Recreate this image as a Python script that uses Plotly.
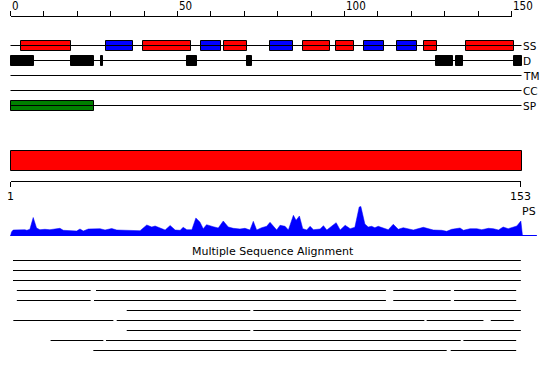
import plotly.graph_objects as go

# ---------------- data ----------------
SEQ_LEN = 153
TOP_TICKS = list(range(0, 151, 10))
TOP_LABEL_POS = [0, 50, 100, 150]
TOP_LABELS = ["0", "50", "100", "150"]
BOTTOM_TICKS = [1, 153]
BOTTOM_LABELS = ["1", "153"]
TRACK_NAMES = ["SS", "D", "TM", "CC", "SP"]

HELIX_START = [3.0, 39.8, 63.8, 87.7, 97.6, 123.7, 136.5]
HELIX_END = [18.0, 53.9, 70.7, 95.8, 102.7, 127.8, 150.6]
STRAND_START = [28.7, 56.9, 77.8, 105.7, 115.6]
STRAND_END = [36.8, 62.9, 84.7, 111.7, 121.6]
DISORDER_START = [0.0, 18.0, 27.0, 52.7, 70.7, 127.5, 133.5, 150.6]
DISORDER_END = [6.9, 24.9, 27.8, 55.7, 72.2, 132.6, 135.6, 153.0]
SIGNAL_START = [0.0]
SIGNAL_END = [24.9]
DOMAIN_START = [0.0]
DOMAIN_END = [153.0]

PROFILE_POS = [0, 0.3, 0.8, 2.8, 4.3, 4.9, 5.8, 6.8, 7.8, 8.8, 10.3, 11.8, 13.3, 14.8,
               15.8, 17.8, 19.8, 20.8, 21.8, 23.3, 25.3, 26.8, 28.3, 30.3, 31.8, 35.8,
               37.8, 38.8, 40.8, 42.3, 43.3, 44.8, 46.3, 47.8, 49.3, 50.8, 51.7, 52.8,
               54.3, 55.5, 56.7, 57.7, 58.7, 60.7, 62.2, 63.7, 65.2, 66.7, 68.7, 70.2,
               71.7, 72.7, 73.7, 75.2, 76.7, 77.7, 79.7, 80.7, 82.2, 83.2, 84.7, 85.5,
               86.5, 87.5, 88.7, 89.7, 90.7, 92.7, 93.7, 94.7, 97.5, 98.7, 100.2, 101.7,
               103.1, 104.4, 104.9, 106.1, 107.1, 108.1, 109.1, 110.1, 111.6, 113.1,
               114.6, 116.1, 117.6, 119.1, 120.6, 123.6, 125.1, 126.6, 129.1, 130.6,
               132.1, 134.6, 135.6, 137.6, 139.6, 141.1, 143.1, 144.6, 146.1, 147.5,
               149.0, 150.5, 151.6, 152.8, 153.3]
PROFILE_VAL = [0, 4, 6, 6.5, 6.3, 5.7, 6.7, 18.5, 8, 6.3, 6.7, 6.3, 6.7, 7.7,
               5.7, 5, 5, 7, 5, 7, 7.5, 7.3, 6, 7.5, 6, 6,
               5.3, 5.3, 11, 9, 10, 8.3, 6, 10.5, 6, 5.7, 8.7, 6.3,
               6.3, 18, 14, 7.3, 11.3, 9.3, 8, 15, 9, 7.7, 7, 7.7,
               6, 14.7, 6, 8.3, 9.7, 13.7, 6, 10.7, 9.7, 6, 20.7, 15.7,
               20, 7.3, 6, 9.7, 6.3, 7, 10.3, 6, 13.3, 6, 10.7, 7.3,
               8.7, 29, 29.5, 12, 9, 9.7, 8.3, 9.7, 8.3, 6.3,
               11.7, 6.7, 8.3, 7.3, 6, 8.7, 7.3, 6, 5.7, 4.7,
               6.7, 8, 5.7, 7.3, 7.3, 6.3, 7.7, 7.3, 6, 9,
               7.3, 9, 10, 15, 0]

MSA_ROWS = [
    [(0.75, 152.8)],
    [(0.75, 152.8)],
    [(0.75, 152.8)],
    [(1.9, 24.0), (25.6, 112.4), (114.6, 131.8), (132.8, 151.4)],
    [(1.9, 24.0), (25.0, 112.4), (114.6, 131.8), (132.8, 151.4)],
    [(34.8, 71.8), (72.7, 152.8)],
    [(0.85, 30.8), (31.8, 123.9), (124.6, 141.6), (143.8, 150.7)],
    [(34.8, 71.8), (72.7, 152.8)],
    [(12.0, 27.8), (28.6, 134.8), (135.6, 151.4)],
    [(24.8, 130.6), (131.8, 151.4)],
]
MSA_TITLE = "Multiple Sequence Alignment"

# ---------------- layout constants ----------------
W, H = 550, 380
X0 = 10.5            # pixel of residue 0
S = 501 / 150        # pixels per residue
TRACK_Y = [45.5, 60.5, 75.5, 90.5, 105.5]
BOX_H = 10
DOMAIN_Y = 160.5
DOMAIN_H = 20
MSA_Y0 = 260.5
MSA_DY = 10
BASE_Y = 235.5
BASELINE_END = 157.6
RED, BLUE, GREEN, BLACK = "#ff0000", "#0000ff", "#008000", "#000000"
FONT = "DejaVu Sans"
FONT_N = "Liberation Sans Narrow, DejaVu Sans Condensed, DejaVu Sans"

fig = go.Figure()

# track lines
for ty in TRACK_Y:
    fig.add_trace(go.Scatter(x=[0, SEQ_LEN], y=[ty, ty], mode="lines",
                             line=dict(color=BLACK, width=1), hoverinfo="skip"))


def boxes(starts, ends, yc, h, color):
    fig.add_trace(go.Bar(orientation="h", base=starts,
                         x=[e - s for s, e in zip(starts, ends)],
                         y=[yc] * len(starts), width=h,
                         marker=dict(color=color, line=dict(color=BLACK, width=1)),
                         hoverinfo="skip"))


boxes(HELIX_START, HELIX_END, TRACK_Y[0], BOX_H, RED)
boxes(STRAND_START, STRAND_END, TRACK_Y[0], BOX_H, BLUE)
boxes(DISORDER_START, DISORDER_END, TRACK_Y[1], BOX_H, BLACK)
boxes(SIGNAL_START, SIGNAL_END, TRACK_Y[4], BOX_H, GREEN)
boxes(DOMAIN_START, DOMAIN_END, DOMAIN_Y, DOMAIN_H, RED)

# profile
fig.add_trace(go.Scatter(x=[0, BASELINE_END], y=[BASE_Y, BASE_Y], mode="lines",
                         line=dict(color=BLUE, width=1), hoverinfo="skip"))
fig.add_trace(go.Scatter(x=PROFILE_POS, y=PROFILE_VAL, yaxis="y2", mode="lines",
                         fill="tozeroy", fillcolor=BLUE,
                         line=dict(color=BLUE, width=0.5), hoverinfo="skip"))

# MSA
mx, my = [], []
for i, row in enumerate(MSA_ROWS):
    yy = MSA_Y0 + i * MSA_DY
    for s, e in row:
        mx += [s, e, None]
        my += [yy, yy, None]
fig.add_trace(go.Scatter(x=mx, y=my, mode="lines", line=dict(color=BLACK, width=1),
                         hoverinfo="skip"))

# rulers (anchor traces)
fig.add_trace(go.Scatter(x=[TOP_TICKS[0], TOP_TICKS[-1]], y=[None, None], xaxis="x2",
                         yaxis="y", mode="lines", hoverinfo="skip"))
fig.add_trace(go.Scatter(x=BOTTOM_TICKS, y=[None, None], xaxis="x3",
                         yaxis="y", mode="lines", hoverinfo="skip"))

ann = []
for p, t in zip(TOP_LABEL_POS, TOP_LABELS):
    ann.append(dict(x=p, y=6, xref="x2", yref="y", text=t, showarrow=False,
                    xanchor="left", yanchor="middle", borderpad=0,
                    font=dict(family=FONT_N, size=11.5, color=BLACK)))
for name, ty in zip(TRACK_NAMES, TRACK_Y):
    ann.append(dict(x=SEQ_LEN, y=ty, xref="x", yref="y", text=name, showarrow=False,
                    xanchor="left", yanchor="middle", borderpad=0,
                    font=dict(family=FONT, size=10.5, color=BLACK)))
ann.append(dict(x=BOTTOM_TICKS[-1], y=211, xref="x3", yref="y", text="PS",
                showarrow=False, xanchor="left", yanchor="middle", borderpad=0,
                font=dict(family=FONT, size=11, color=BLACK)))
ann.append(dict(x=273 / W, y=251.5, xref="paper", yref="y", text=MSA_TITLE,
                showarrow=False, xanchor="center", yanchor="middle", borderpad=0,
                font=dict(family=FONT, size=11, color=BLACK)))

fig.update_layout(
    width=W, height=H, margin=dict(l=0, r=0, t=0, b=0, pad=0, autoexpand=False),
    paper_bgcolor="white", plot_bgcolor="rgba(0,0,0,0)",
    showlegend=False, barmode="overlay", bargap=0,
    xaxis=dict(range=[-X0 / S, (W - X0) / S], visible=False, domain=[0, 1],
               automargin=False),
    yaxis=dict(range=[H, 0], visible=False, domain=[0, 1], automargin=False),
    yaxis2=dict(range=[0, 40], visible=False, anchor="x", automargin=False,
                domain=[1 - 236 / H, 1 - 196 / H]),
    xaxis2=dict(range=[0, 150], domain=[X0 / W, (X0 + 150 * S) / W], anchor="free",
                position=(H - 15.5) / H, side="top", showline=True, linecolor=BLACK,
                linewidth=1, ticks="outside", ticklen=5, tickwidth=1, tickcolor=BLACK,
                tickvals=TOP_TICKS, showticklabels=False, showgrid=False, zeroline=False,
                automargin=False),
    xaxis3=dict(range=[BOTTOM_TICKS[0], BOTTOM_TICKS[-1]], domain=[X0 / W, 520.5 / W],
                anchor="free", position=(H - 180.5) / H, side="bottom", showline=True,
                linecolor=BLACK, linewidth=1, ticks="outside", ticklen=5, tickwidth=1,
                tickcolor=BLACK, tickvals=BOTTOM_TICKS, ticktext=BOTTOM_LABELS,
                tickfont=dict(family=FONT, size=11, color=BLACK),
                showgrid=False, zeroline=False, automargin=False),
    annotations=ann,
)

fig.write_html("out.html")
